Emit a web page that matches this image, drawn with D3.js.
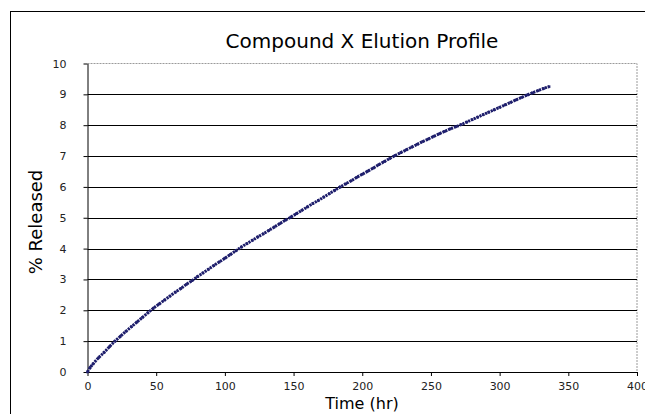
<!DOCTYPE html>
<meta charset="utf-8">
<script src="https://d3js.org/d3.v7.min.js"></script>
<style>
  body { margin: 0; background: #fff; }
  .tick text { font-family: "DejaVu Sans", sans-serif; font-size: 11px; fill: #222; }
  .domain { stroke: #000; }
  .tick line { stroke: #000; }
</style>
<div id="chart"></div>
<script>
// time points (hr) and % released
const hours = [0, 2, 4, 8, 12, 16, 20, 24, 28, 32, 36, 40, 44, 48, 52, 56, 60, 64, 68, 72, 76, 80,
  84, 88, 92, 96, 100, 104, 108, 112, 116, 120, 124, 128, 132, 136, 140, 144, 148, 152, 156, 160,
  164, 168, 172, 176, 180, 184, 188, 192, 196, 200, 204, 208, 212, 216, 220, 224, 228, 232, 236,
  240, 244, 248, 252, 256, 260, 264, 268, 272, 276, 280, 284, 288, 292, 296, 300, 304, 308, 312,
  316, 320, 324, 328, 332, 336];
const released = [0, 0.15, 0.26, 0.46, 0.63, 0.82, 1.0, 1.16, 1.32, 1.47, 1.62, 1.77, 1.92, 2.07,
  2.20, 2.33, 2.46, 2.59, 2.71, 2.84, 2.96, 3.09, 3.21, 3.33, 3.45, 3.57, 3.69, 3.81, 3.93, 4.05,
  4.16, 4.27, 4.38, 4.48, 4.59, 4.70, 4.81, 4.92, 5.02, 5.13, 5.24, 5.35, 5.46, 5.56, 5.67, 5.78,
  5.89, 6.0, 6.10, 6.20, 6.31, 6.41, 6.51, 6.61, 6.72, 6.82, 6.92, 7.02, 7.11, 7.20, 7.29, 7.38,
  7.47, 7.55, 7.64, 7.72, 7.80, 7.88, 7.95, 8.02, 8.10, 8.18, 8.26, 8.34, 8.42, 8.50, 8.58, 8.66,
  8.74, 8.82, 8.90, 8.98, 9.05, 9.12, 9.19, 9.25];
const xTicks = [0, 50, 100, 150, 200, 250, 300, 350, 400];
const yTicks = [0, 1, 2, 3, 4, 5, 6, 7, 8, 9, 10];

const W = 645, H = 414;
const plot = {left: 87.5, right: 637, top: 63.5, bottom: 372};

const svg = d3.select("#chart").append("svg")
  .attr("width", W).attr("height", H);

// outer chart frame
svg.append("rect")
  .attr("x", 10.5).attr("y", 11.5)
  .attr("width", 700).attr("height", 500)
  .attr("fill", "#fff").attr("stroke", "#000");

const x = d3.scaleLinear().domain([0, 400]).range([plot.left, plot.right]);
const y = d3.scaleLinear().domain([0, 10]).range([plot.bottom, plot.top]);

// plot area border (grey top and right)
svg.append("path")
  .attr("d", `M${plot.left},${plot.top}H${plot.right}V${plot.bottom}`)
  .attr("fill", "none")
  .attr("stroke", "#9a9a9a")
  .attr("stroke-dasharray", "2,1");

// gridlines
svg.append("g")
  .selectAll("line")
  .data(yTicks.filter(d => d > 0 && d < 10))
  .join("line")
  .attr("x1", plot.left).attr("x2", plot.right)
  .attr("y1", d => Math.round(y(d)) + 0.5).attr("y2", d => Math.round(y(d)) + 0.5)
  .attr("stroke", "#000");

svg.append("g")
  .attr("transform", `translate(0,${plot.bottom})`)
  .call(d3.axisBottom(x).tickValues(xTicks).tickSize(4).tickPadding(6).tickSizeOuter(0));

svg.append("g")
  .attr("transform", `translate(${plot.left},0)`)
  .call(d3.axisLeft(y).tickValues(yTicks).tickSize(4).tickPadding(17).tickSizeOuter(0));

// data line (dotted look) + markers
const pts = hours.map((h, i) => [h, released[i]]);
svg.append("path")
  .datum(pts)
  .attr("d", d3.line().x(d => x(d[0])).y(d => y(d[1])).curve(d3.curveMonotoneX))
  .attr("fill", "none")
  .attr("stroke", "#1c1c6a")
  .attr("stroke-width", 3)
  .attr("stroke-dasharray", "2.2,0.9");

svg.append("g")
  .selectAll("rect")
  .data(pts)
  .join("rect")
  .attr("x", d => x(d[0]) - 1.3).attr("y", d => y(d[1]) - 1.3)
  .attr("width", 2.6).attr("height", 2.6)
  .attr("fill", "#20206e");

// titles
svg.append("text")
  .attr("x", 362).attr("y", 48)
  .attr("text-anchor", "middle")
  .attr("font-family", "DejaVu Sans, sans-serif")
  .attr("font-size", 20)
  .text("Compound X Elution Profile");

svg.append("text")
  .attr("x", 362).attr("y", 409)
  .attr("text-anchor", "middle")
  .attr("font-family", "DejaVu Sans, sans-serif")
  .attr("font-size", 16)
  .text("Time (hr)");

svg.append("text")
  .attr("transform", "translate(42,222) rotate(-90)")
  .attr("text-anchor", "middle")
  .attr("font-family", "DejaVu Sans, sans-serif")
  .attr("font-size", 18)
  .text("% Released");
</script>
